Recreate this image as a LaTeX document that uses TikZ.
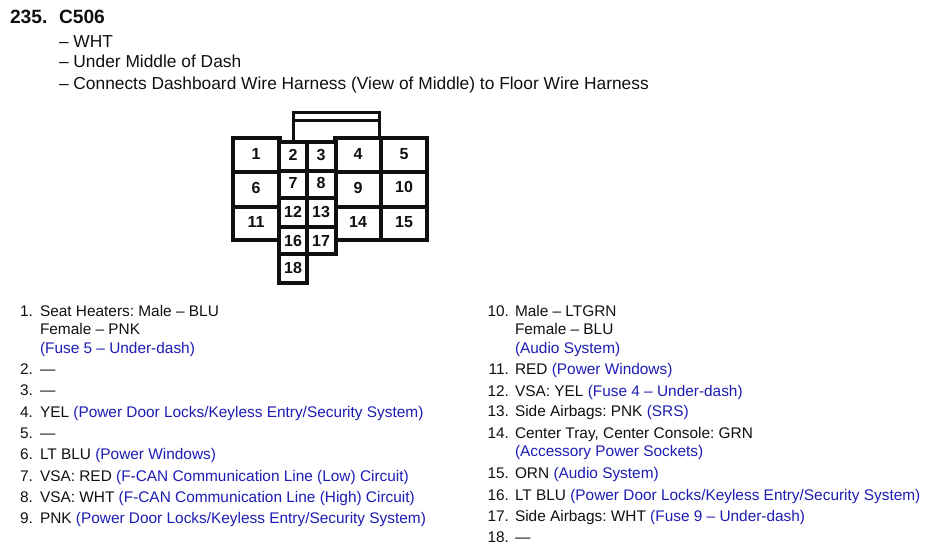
\documentclass[tikz,border=0pt]{standalone}
\usepackage{fontspec}
\setmainfont{Liberation Sans}
\usetikzlibrary{positioning}
\definecolor{CircuitBlue}{HTML}{1C1CB4}
\definecolor{InkBlack}{HTML}{101010}
\newcommand{\sys}[1]{\textcolor{CircuitBlue}{#1}}
\frenchspacing
\tikzset{
  txt/.style={anchor=base west,inner sep=0pt,outer sep=0pt,text=InkBlack,font=\fontsize{15.4}{19}\selectfont},
  head/.style={anchor=base west,inner sep=0pt,outer sep=0pt,text=InkBlack,font=\fontsize{17.35}{21}\selectfont},
  title/.style={anchor=base west,inner sep=0pt,outer sep=0pt,text=InkBlack,font=\fontsize{19.2}{22}\selectfont\bfseries},
  cell/.style={inner sep=0pt,text=InkBlack,font=\fontsize{16}{18}\selectfont\bfseries},
  wall/.style={draw=InkBlack,line width=3.4pt,line join=miter}
}
\begin{document}
\begin{tikzpicture}[x=1pt,y=-1pt]
        \useasboundingbox (0,0) rectangle (935,550);
        % heading
        \node[title] (num) at (10,23) {235.};
        \node[title] (conn) at (59,23) {C506};
        \node[head] (colr) at (59,47) {– WHT};
        \node[head] (locn) at (59,67) {– Under Middle of Dash};
        \node[head] (join) at (59,89) {– Connects Dashboard Wire Harness (View of Middle) to Floor Wire Harness};

        % connector outline, the tab on top first
        \draw[wall,line width=3pt] (293,141) -- (293,112) -- (379,112) -- (379,138);
        \draw[wall,line width=3pt] (293,120) -- (379,120);
        \foreach \xa/\xb/\ya/\yb in {233/280/138/172, 233/280/172/207, 233/280/207/240,
                                     335/381/138/172, 381/427/138/172,
                                     335/381/172/207, 381/427/172/207,
                                     335/381/207/240, 381/427/207/240}
        {
            \draw[wall,fill=white] (\xa,\ya) rectangle (\xb,\yb);
        }
        \foreach \xa/\xb/\ya/\yb in {279/307/142/171, 307/336/142/171,
                                     279/307/171/198, 307/336/171/198,
                                     279/307/198/227, 307/336/198/227,
                                     279/307/227/254, 307/336/227/254,
                                     279/307/254/283}
        {
            \draw[wall,fill=white] (\xa,\ya) rectangle (\xb,\yb);
        }
        \foreach \n/\x/\y in {1/256/154, 2/293/155, 3/321/155, 4/358/154, 5/404/154,
                              6/256/188, 7/293/183, 8/321/183, 9/358/188, 10/404/187,
                              11/256/222, 12/293/212, 13/321/212, 14/358/222, 15/404/222,
                              16/293/241, 17/321/241, 18/293/268}
        {
            \node[cell] (pin\n) at (\x,\y) {\n};
        }

        % left column
        \foreach \n/\y in {1/316,2/374,3/395,4/417,5/438,6/459,7/481,8/502,9/523}
        {
            \node[txt,anchor=base east] (idx\n) at (33,\y) {\n.};
        }
        \node[txt] (lbl1) at (40,316) {Seat Heaters: Male – BLU};
        \node[txt] (lbl1b) at (40,334) {Female – PNK};
        \node[txt] (lbl1c) at (40,353) {\sys{(Fuse 5 – Under-dash)}};
        \node[txt] (lbl2) at (40,374) {—};
        \node[txt] (lbl3) at (40,395) {—};
        \node[txt] (lbl4) at (40,417) {YEL \sys{(Power Door Locks/Keyless Entry/Security System)}};
        \node[txt] (lbl5) at (40,438) {—};
        \node[txt] (lbl6) at (40,459) {LT BLU \sys{(Power Windows)}};
        \node[txt] (lbl7) at (40,481) {VSA: RED \sys{(F-CAN Communication Line (Low) Circuit)}};
        \node[txt] (lbl8) at (40,502) {VSA: WHT \sys{(F-CAN Communication Line (High) Circuit)}};
        \node[txt] (lbl9) at (40,523) {PNK \sys{(Power Door Locks/Keyless Entry/Security System)}};

        % right column
        \foreach \n/\y in {10/316,11/374,12/396,13/416,14/438,15/478,16/500,17/521,18/542}
        {
            \node[txt,anchor=base east] (idx\n) at (509,\y) {\n.};
        }
        \node[txt] (lbl10) at (515,316) {Male – LTGRN};
        \node[txt] (lbl10b) at (515,334) {Female – BLU};
        \node[txt] (lbl10c) at (515,353) {\sys{(Audio System)}};
        \node[txt] (lbl11) at (515,374) {RED \sys{(Power Windows)}};
        \node[txt] (lbl12) at (515,396) {VSA: YEL \sys{(Fuse 4 – Under-dash)}};
        \node[txt] (lbl13) at (515,416) {Side Airbags: PNK \sys{(SRS)}};
        \node[txt] (lbl14) at (515,438) {Center Tray, Center Console: GRN};
        \node[txt] (lbl14b) at (515,456) {\sys{(Accessory Power Sockets)}};
        \node[txt] (lbl15) at (515,478) {ORN \sys{(Audio System)}};
        \node[txt] (lbl16) at (515,500) {LT BLU \sys{(Power Door Locks/Keyless Entry/Security System)}};
        \node[txt] (lbl17) at (515,521) {Side Airbags: WHT \sys{(Fuse 9 – Under-dash)}};
        \node[txt] (lbl18) at (515,542) {—};
\end{tikzpicture}
\end{document}
